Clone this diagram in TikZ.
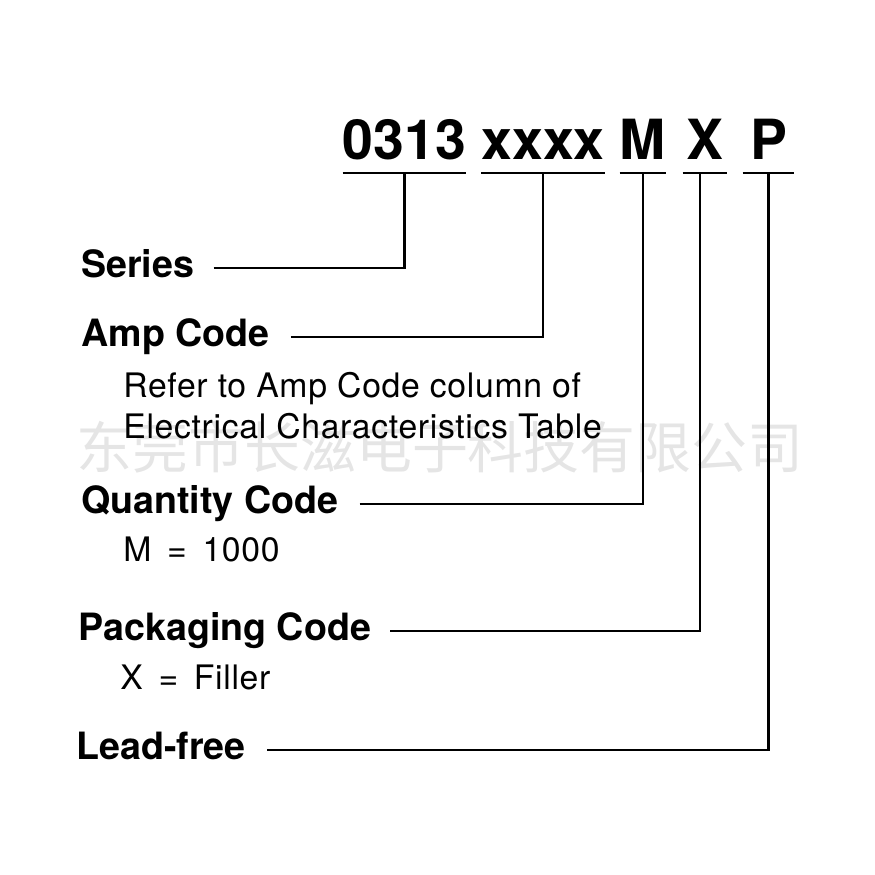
\documentclass[tikz,border=0pt]{standalone}
\usepackage{fontspec}
\setmainfont{TeX Gyre Heros}
\newfontfamily\cjkmark{Noto Sans CJK SC}
\usepackage{tikz}
\usetikzlibrary{positioning,calc}

\begin{document}
\begin{tikzpicture}[
  code/.style={inner xsep=0pt,inner ysep=.26cm,text depth=0pt,anchor=south,
    minimum width=#1,font=\fontsize{31.5}{36}\selectfont\bfseries},
  field/.style={anchor=west,inner sep=0pt,text height=11pt,text depth=0pt,
    font=\fontsize{21.4}{25}\selectfont\bfseries},
  note/.style={anchor=base west,inner sep=0pt,
    font=\fontsize{19.2}{23}\selectfont\addfontfeature{LetterSpace=2}},
  underline/.style={line width=1.6pt},
  connector/.style={line width=1.4pt},
  watermark/.style={text=black!10,inner sep=0pt,
    font=\cjkmark\fontsize{31.8}{36}\selectfont}
]
\useasboundingbox (0,0) rectangle (17.5,-17.5);

% Watermark behind everything else.
\node[watermark] (mark) at (8.8,-8.94) {东莞市长滋电子科技有限公司};

% Part number with one underline per field.
\node[code=2.34cm] (series) at (8.09,-3.46) {0313};
\node[code=2.44cm] (amp) at (10.86,-3.46) {xxxx};
\node[code=.88cm] (qty) at (12.86,-3.46) {M};
\node[code=.88cm] (pack) at (14.1,-3.46) {X};
\node[code=1.02cm] (lead) at (15.37,-3.46) {P};
\foreach \part in {series,amp,qty,pack,lead}{
  \draw[underline] (\part.south west) -- (\part.south east);
}

% Field names and their explanations.
\node[field] (seriesname) at (1.62,-5.36) {Series};
\node[field] (ampname) at (1.62,-6.74) {Amp Code};
\node[note] (ampnote1) at (2.46,-7.94) {Refer to Amp Code column of};
\node[note] (ampnote2) at (2.46,-8.76) {Electrical Characteristics Table};
\node[field] (qtyname) at (1.62,-10.08) {Quantity Code};
\node[note] (qtynote) at (2.46,-11.22) {M \,=\, 1000};
\node[field] (packname) at (1.56,-12.62) {Packaging Code};
\node[note] (packnote) at (2.4,-13.78) {X \,=\, Filler};
\node[field] (leadname) at (1.52,-15.0) {Lead-free};

% Leaders from each name up to its underline.
\draw[connector] ([xshift=3.8mm]seriesname.east) -| (series.south);
\draw[connector] ([xshift=4.2mm]ampname.east) -| (amp.south);
\draw[connector] ([xshift=4.2mm]qtyname.east) -| (qty.south);
\draw[connector] ([xshift=3.8mm]packname.east) -| ([xshift=-1mm]pack.south);
\draw[connector] ([xshift=4.2mm]leadname.east) -| (lead.south);
\end{tikzpicture}
\end{document}
